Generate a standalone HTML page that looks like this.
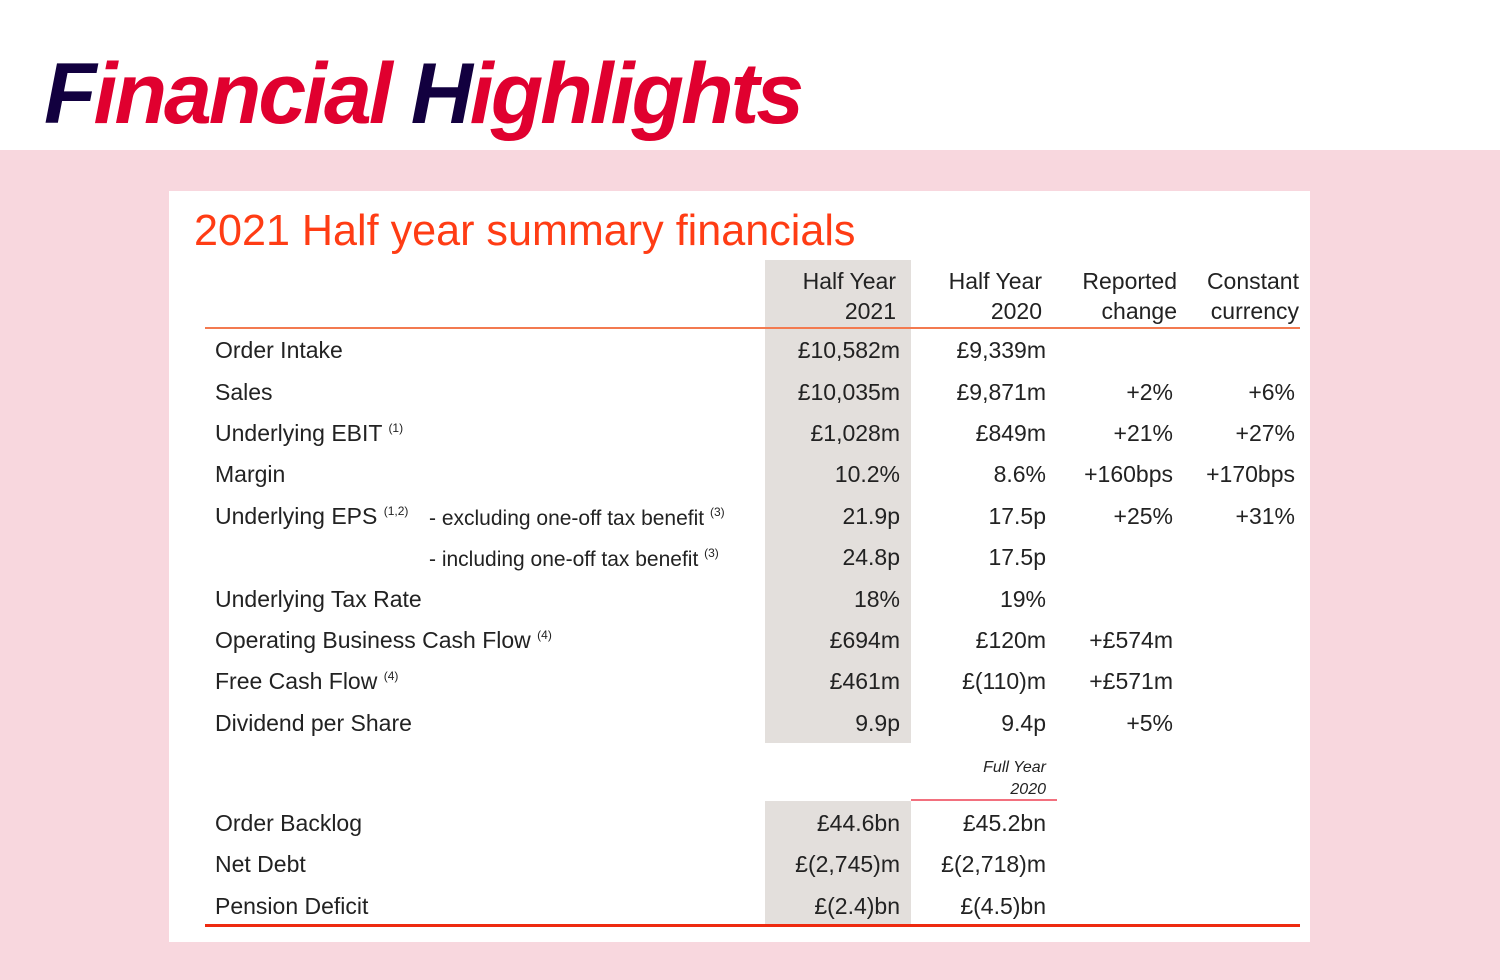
<!DOCTYPE html>
<html><head><meta charset="utf-8">
<style>
*{margin:0;padding:0;box-sizing:border-box}
body{width:1500px;height:980px;position:relative;overflow:hidden;background:#f8d7de;font-family:"Liberation Sans",sans-serif;color:#222}
.hdr{position:absolute;left:0;top:0;width:1500px;height:150px;background:#fff}
.ttl{position:absolute;left:44px;top:45px;font-size:86px;font-weight:bold;font-style:italic;letter-spacing:-3px;white-space:nowrap;transform:scaleX(1.0);transform-origin:left top;color:#e0002f}
.ttl .n{color:#12003f}
.card{position:absolute;left:169px;top:191px;width:1141px;height:751px;background:#fff}
.sub{position:absolute;left:194px;top:206px;font-size:44px;color:#ff3c14;white-space:nowrap;transform:scaleX(0.98);transform-origin:left top}
.gray{position:absolute;background:#e3dfdc}
.t{position:absolute;font-size:23px;white-space:nowrap;line-height:1}
.r{text-align:right}
sup{font-size:12px;vertical-align:9px}
.line{position:absolute;height:2px}
</style></head><body>
<div class="hdr"></div>
<div class="ttl"><span class="n">F</span>inancial <span class="n">H</span>ighlights</div>
<div class="card"></div>
<div class="sub">2021 Half year summary financials</div>
<div class="gray" style="left:765px;top:260px;width:146px;height:483px"></div>
<div class="gray" style="left:765px;top:801px;width:146px;height:124px"></div>
<div class="line" style="left:205px;top:327px;width:1095px;background:#f37a50"></div>
<div class="line" style="left:205px;top:924px;width:1095px;height:3px;background:#ee2a10"></div>
<div class="line" style="left:911px;top:799px;width:146px;background:#f2707e"></div>
<div id="tbl"></div>
<script>
const heads=[["Half Year","2021"],["Half Year","2020"],["Reported","change"],["Constant","currency"]];
const headRight=[896,1042,1177,1299];
const colRight=[900,1046,1173,1295];
const labels=["Order Intake","Sales","Underlying EBIT|(1)","Margin","Underlying EPS|(1,2)","","Underlying Tax Rate","Operating Business Cash Flow|(4)","Free Cash Flow|(4)","Dividend per Share","Order Backlog","Net Debt","Pension Deficit"];
const hy21=["£10,582m","£10,035m","£1,028m","10.2%","21.9p","24.8p","18%","£694m","£461m","9.9p","£44.6bn","£(2,745)m","£(2.4)bn"];
const hy20=["£9,339m","£9,871m","£849m","8.6%","17.5p","17.5p","19%","£120m","£(110)m","9.4p","£45.2bn","£(2,718)m","£(4.5)bn"];
const rep=["","+2%","+21%","+160bps","+25%","","","+£574m","+£571m","+5%","","",""];
const cc=["","+6%","+27%","+170bps","+31%","","","","","","","",""];
const rowTop=[339,381,422,463,505,546,588,629,670,712,812,853,895];
const root=document.getElementById('tbl');
function mk(txt,x,y,right,name,extra){
  const d=document.createElement('div');
  d.className='t'+(right?' r':'');
  
  
  if(right){d.style.right=(1500-x)+'px';}else{d.style.left=x+'px';}
  d.style.top=y+'px';
  if(extra)Object.assign(d.style,extra);
  d.innerHTML=txt;root.appendChild(d);return d;
}
heads.forEach((h,i)=>{mk(h[0],headRight[i],270,true,'column-header');mk(h[1],headRight[i],300,true,'column-header');});
labels.forEach((l,i)=>{
  if(!l)return;
  const p=l.split('|');
  mk(p[0]+(p[1]?' <sup>'+p[1]+'</sup>':''),215,rowTop[i],false,'row-label');
  mk(hy21[i],colRight[0],rowTop[i],true,'value-hy2021');
  mk(hy20[i],colRight[1],rowTop[i],true,'value-hy2020');
  if(rep[i])mk(rep[i],colRight[2],rowTop[i],true,'value-reported-change');
  if(cc[i])mk(cc[i],colRight[3],rowTop[i],true,'value-constant-currency');
});
mk(hy21[5],colRight[0],rowTop[5],true,'value-hy2021');
mk(hy20[5],colRight[1],rowTop[5],true,'value-hy2020');
mk('- excluding one-off tax benefit <sup>(3)</sup>',429,rowTop[4]+1,false,'eps-sub-label',{fontSize:'21px'});
mk('- including one-off tax benefit <sup>(3)</sup>',429,rowTop[5]+1,false,'eps-sub-label',{fontSize:'21px'});
mk('Full Year',1046,760,true,'full-year-header',{fontSize:'16px',fontStyle:'italic'});
mk('2020',1046,782,true,'full-year-header',{fontSize:'16px',fontStyle:'italic'});
</script>
</body></html>
